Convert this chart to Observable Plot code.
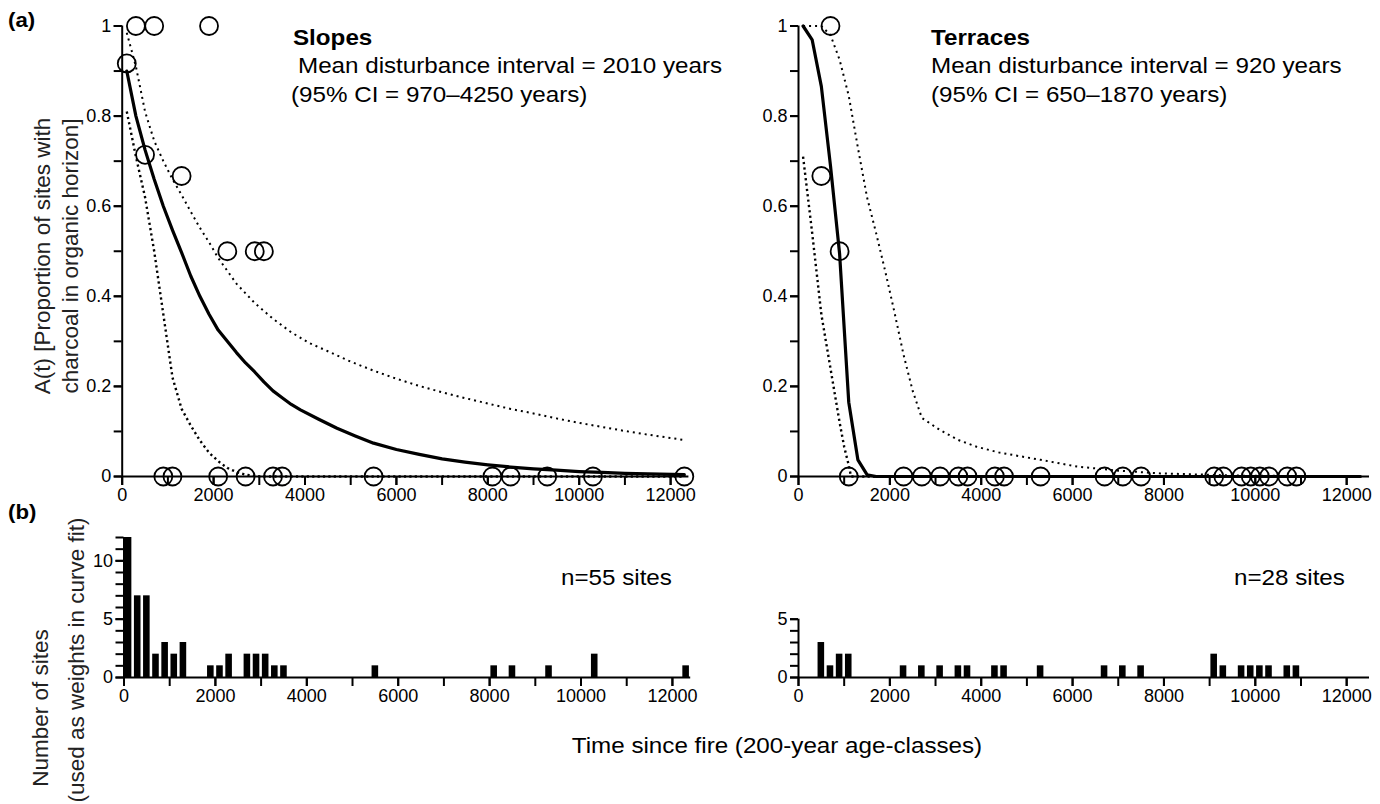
<!DOCTYPE html>
<html><head><meta charset="utf-8">
<script src="https://cdn.jsdelivr.net/npm/d3@7"></script>
<script src="https://cdn.jsdelivr.net/npm/@observablehq/plot@0.6"></script>
<style>
html,body{margin:0;padding:0;background:#fff;}
#root{position:relative;width:1380px;height:804px;overflow:hidden;font-family:"Liberation Sans",Arial,Helvetica,sans-serif;}
#root svg{position:absolute;overflow:visible;}
</style></head><body><div id="root"></div>
<script>
// ---------- DATA ----------
// Slopes: 200-year age classes (bin centres), number of sites, proportion with charcoal
const slopeBinCenters = [100,300,500,700,900,1100,1300,1900,2100,2300,2700,2900,3100,3300,3500,5500,8100,8500,9300,10300,12300];
const slopeSiteCounts = [12,7,7,2,3,2,3,1,1,2,2,2,2,1,1,1,1,1,1,2,1];
const slopeProportion = [0.917,1,0.714,1,0,0,0.667,1,0,0.5,0,0.5,0.5,0,0,0,0,0,0,0,0];

// Terraces
const terraceBinCenters = [500,700,900,1100,2300,2700,3100,3500,3700,4300,4500,5300,6700,7100,7500,9100,9300,9700,9900,10100,10300,10700,10900];
const terraceSiteCounts = [3,1,2,2,1,1,1,1,1,1,1,1,1,1,1,2,1,1,1,1,1,1,1];
const terraceProportion = [0.667,1,0.5,0,0,0,0,0,0,0,0,0,0,0,0,0,0,0,0,0,0,0,0];

// Fitted curves
const slopeFitTime  = [100,300,500,700,900,1100,1300,1500,1700,1900,2100,2300,2500,2700,2900,3100,3300,3500,3700,3900,4300,4700,5100,5500,6000,6500,7000,7500,8000,8500,9000,9500,10000,10500,11000,11500,12300];
const slopeFit      = [0.90,0.80,0.725,0.66,0.60,0.547,0.497,0.445,0.40,0.36,0.325,0.30,0.275,0.252,0.232,0.21,0.19,0.175,0.16,0.148,0.127,0.107,0.09,0.074,0.06,0.049,0.039,0.032,0.026,0.021,0.017,0.014,0.011,0.009,0.007,0.006,0.004];
const slopeUpperTime = [100,300,500,700,900,1100,1300,1500,1700,1900,2100,2500,2900,3300,3700,4100,4500,5000,5500,6000,6500,7000,7500,8000,8500,9000,9500,10000,10500,11000,11500,12300];
const slopeUpper     = [0.985,0.91,0.81,0.745,0.70,0.66,0.625,0.588,0.552,0.52,0.485,0.428,0.385,0.35,0.32,0.296,0.278,0.255,0.235,0.217,0.201,0.187,0.174,0.162,0.15,0.14,0.129,0.119,0.11,0.101,0.093,0.081];
const slopeLowerTime = [100,300,500,700,900,1100,1300,1500,1700,1900,2100,2300,2500,2700,2900,3100,12300];
const slopeLower     = [0.81,0.71,0.62,0.50,0.36,0.22,0.15,0.113,0.08,0.053,0.034,0.019,0.01,0.004,0.001,0,0];

const terraceFitTime = [100,300,500,700,900,1100,1300,1500,1700,12300];
const terraceFit     = [1.0,0.969,0.866,0.69,0.494,0.165,0.037,0.004,0,0];
const terraceUpperTime = [100,300,500,700,900,1100,1300,1500,1700,1900,2100,2300,2500,2700,3100,3500,3900,4400,5300,6100,7000,7900,9600,11000,12300];
const terraceUpper     = [1,1,1,0.98,0.925,0.845,0.73,0.62,0.54,0.455,0.365,0.27,0.19,0.13,0.103,0.081,0.066,0.053,0.037,0.022,0.013,0.007,0.002,0.001,0];
const terraceLowerTime = [100,300,500,700,900,1000,1100,1150,12300];
const terraceLower     = [0.71,0.54,0.36,0.24,0.12,0.066,0.025,0,0];

// Tick values
const xMinorTicks = [0,1000,2000,3000,4000,5000,6000,7000,8000,9000,10000,11000,12000];
const xLabelTicks = [0,2000,4000,6000,8000,10000,12000];
const yTopMinor = [0,0.1,0.2,0.3,0.4,0.5,0.6,0.7,0.8,0.9,1];
const yTopLabels = [0,0.2,0.4,0.6,0.8,1];
const yCountMinorLeft = [0,1,2,3,4,5,6,7,8,9,10,11,12];
const yCountLabelsLeft = [0,5,10];
const yCountMinorRight = [0,1,2,3,4,5];
const yCountLabelsRight = [0,5];

// ---------- HELPERS ----------
const root = document.getElementById("root");
const FONT = '"Liberation Sans", Arial, Helvetica, sans-serif';
const zip = (xs, ys, kx, ky) => xs.map((v, i) => ({[kx]: v, [ky]: ys[i]}));

function axes(yMinor, yLabels) {
  return [
    Plot.axisX(xMinorTicks, {tickSize: 9, tickFormat: () => "", strokeWidth: 2, label: null}),
    Plot.axisX(xLabelTicks, {tickSize: 9, tickPadding: 3, tickFormat: d => String(d), strokeWidth: 2, label: null, fontSize: 18}),
    Plot.axisY(yMinor, {tickSize: 8, tickFormat: () => "", strokeWidth: 2, label: null}),
    Plot.axisY(yLabels, {tickSize: 8, tickPadding: 3, tickFormat: d => String(d), strokeWidth: 2, label: null, fontSize: 18}),
    Plot.ruleY([0], {strokeWidth: 2}),
    Plot.ruleX([0], {strokeWidth: 2})
  ];
}

function panel(o) {
  const svg = Plot.plot({
    width: o.width, height: o.height,
    marginLeft: o.mL, marginRight: o.mR, marginTop: o.mT, marginBottom: o.mB,
    x: {domain: [0, o.xMax], axis: null},
    y: {domain: [0, o.yMax], axis: null},
    style: {fontFamily: FONT, fontSize: "18px", color: "#000", background: "transparent", overflow: "visible"},
    marks: o.marks
  });
  svg.style.left = o.left + "px";
  svg.style.top = o.top + "px";
  root.append(svg);
}

function curveMarks(fitT, fit, upT, up, loT, lo) {
  return [
    Plot.line(zip(upT, up, "t", "a"), {x: "t", y: "a", stroke: "#000", strokeWidth: 2, strokeDasharray: "2,4", strokeLinecap: "butt"}),
    Plot.line(zip(loT, lo, "t", "a"), {x: "t", y: "a", stroke: "#000", strokeWidth: 2.4, strokeDasharray: "2.2,3.2", strokeLinecap: "butt"}),
    Plot.line(zip(fitT, fit, "t", "a"), {x: "t", y: "a", stroke: "#000", strokeWidth: 3.2})
  ];
}

function dots(ts, ps) {
  return Plot.dot(zip(ts, ps, "t", "p"), {x: "t", y: "p", r: 9, stroke: "#000", strokeWidth: 1.8, fill: "none"});
}
function bars(ts, ns) {
  return Plot.rectY(zip(ts, ns, "t", "n"), {x1: d => d.t - 72, x2: d => d.t + 72, y: "n", fill: "#000"});
}

// ---------- PANELS ----------
// (a) Slopes
panel({left: 0, top: 0, width: 700, height: 520, mL: 121.7, mR: 11.6, mT: 25.5, mB: 44, xMax: 12400, yMax: 1,
  marks: [...axes(yTopMinor, yTopLabels),
          ...curveMarks(slopeFitTime, slopeFit, slopeUpperTime, slopeUpper, slopeLowerTime, slopeLower),
          dots(slopeBinCenters, slopeProportion)]});
// (a) Terraces
panel({left: 690, top: 0, width: 690, height: 520, mL: 108, mR: 11, mT: 25.5, mB: 44, xMax: 12500, yMax: 1,
  marks: [...axes(yTopMinor, yTopLabels),
          ...curveMarks(terraceFitTime, terraceFit, terraceUpperTime, terraceUpper, terraceLowerTime, terraceLower),
          dots(terraceBinCenters, terraceProportion)]});
// (b) Slopes counts
panel({left: 0, top: 520, width: 700, height: 200, mL: 123.5, mR: 9.8, mT: 17, mB: 43, xMax: 12400, yMax: 12,
  marks: [bars(slopeBinCenters, slopeSiteCounts), ...axes(yCountMinorLeft, yCountLabelsLeft)]});
// (b) Terraces counts
panel({left: 690, top: 520, width: 690, height: 200, mL: 108, mR: 11, mT: 98.7, mB: 43, xMax: 12500, yMax: 5,
  marks: [bars(terraceBinCenters, terraceSiteCounts), ...axes(yCountMinorRight, yCountLabelsRight)]});

// ---------- TEXT OVERLAY ----------
const ov = d3.select(root).append("svg")
  .attr("width", 1380).attr("height", 804)
  .style("left", "0px").style("top", "0px")
  .style("font-family", FONT);

function txt(x, y, s, opt = {}) {
  const t = ov.append("text").attr("x", x).attr("y", y).text(s)
    .attr("font-size", opt.size || 22)
    .attr("font-weight", opt.bold ? "bold" : "normal")
    .attr("fill", opt.fill || "#000")
    .attr("text-anchor", opt.anchor || "start");
  const sx = opt.sx || 1.1;
  if (opt.rotate) {
    t.attr("transform", `rotate(-90 ${x} ${y})`);
  } else if (sx !== 1) {
    t.attr("transform", `translate(${x} ${y}) scale(${sx} 1) translate(${-x} ${-y})`);
  }
  return t;
}

txt(8, 27, "(a)", {bold: true, size: 21, sx: 1.06});
txt(8, 519, "(b)", {bold: true, size: 21, sx: 1.06});

txt(293, 45, "Slopes", {bold: true});
txt(298, 73, "Mean disturbance interval = 2010 years");
txt(291, 102, "(95% CI = 970\u20134250 years)");

txt(931, 45, "Terraces", {bold: true});
txt(931, 73, "Mean disturbance interval = 920 years");
txt(931, 102, "(95% CI = 650\u20131870 years)");

txt(561, 585, "n=55 sites");
txt(1234, 585, "n=28 sites");

txt(777, 753, "Time since fire (200-year age-classes)", {anchor: "middle"});

txt(50, 256, "A(t) [Proportion of sites with", {rotate: true, anchor: "middle", fill: "#222", size: 22.5});
txt(78, 256, "charcoal in organic horizon]", {rotate: true, anchor: "middle", fill: "#222", size: 22.5});
txt(48, 708, "Number of sites", {rotate: true, anchor: "middle", fill: "#222", size: 22.5});
txt(84, 660, "(used as weights in curve fit)", {rotate: true, anchor: "middle", fill: "#222", size: 22.5});
</script>
</body></html>
